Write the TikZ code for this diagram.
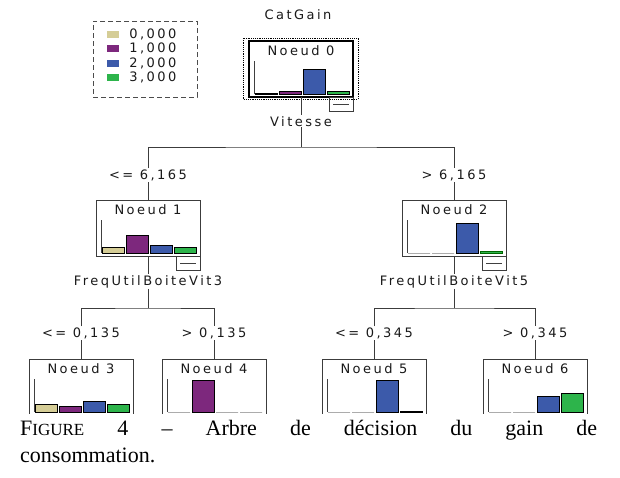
\documentclass[tikz,border=0pt]{standalone}
\usepackage{fontspec}
\setmainfont{Liberation Serif}
\newfontfamily\arbrefont[LetterSpace=19]{DejaVu Sans}
\usetikzlibrary{positioning}
\definecolor{cat0}{RGB}{213,205,150}
\definecolor{cat1}{RGB}{125,40,125}
\definecolor{cat2}{RGB}{60,90,170}
\definecolor{cat3}{RGB}{45,180,75}
\definecolor{trait}{RGB}{60,60,60}
\tikzset{
noeud/.style={
rectangle,
draw=trait,
line width=1pt,
minimum width=104pt,
minimum height=56pt,
inner sep=0pt,
outer sep=0pt
},
racine/.style={noeud, draw=black, line width=2.5pt},
texte/.style={font=\arbrefont\fontsize{13}{15}\selectfont, text=black!90, inner sep=1pt},
plie/.style={rectangle, draw=trait, line width=1pt, minimum width=24pt, minimum height=14pt, inner sep=0pt, outer sep=0pt},
lien/.style={draw=trait, line width=1pt},
axe/.style={draw=black!75, line width=1pt},
barre/.style={line width=1pt},
carre/.style={rectangle, minimum width=12pt, minimum height=7pt, inner sep=0pt}
}
% histogramme dans un noeud : hauteur/remplissage/contour
\newcommand{\histo}[2]{%
\draw[axe] ([shift={(5,-3)}]#1.south west) -- ++(0,-33);
\foreach \h/\c/\d [count=\i from 0] in {#2}
\draw[barre, fill=\c, draw=\d] ([shift={(6+24*\i,-3)}]#1.south west) rectangle ++(22,-\h);
}
\begin{document}
\begin{tikzpicture}[x=1pt, y=-1pt, node distance=18pt]
\useasboundingbox (0,0) rectangle (620,477);

% legende des classes
\node(leg)[rectangle, draw=black!70, line width=1pt, dash pattern=on 5pt off 3pt, minimum width=104pt, minimum height=76pt] at (145,59) {};
\foreach \c/\t [count=\i from 0] in {cat0/{0,000}, cat1/{1,000}, cat2/{2,000}, cat3/{3,000}} {
\node(k\i)[carre, fill=\c] at (113,34+14.6*\i) {};
\node(l\i)[texte, right=9pt of k\i] {\t};
}

\node(cible)[texte] at (298,15) {CatGain};

\begin{scope}
\clip (0,0) rectangle (620,413.5);

% noeuds
\node(n0)[racine] at (301,69) {};
\node(n1)[noeud] at (148,228) {};
\node(n2)[noeud] at (454,228) {};
\node(n3)[noeud] at (81,387) {};
\node(n4)[noeud] at (214,387) {};
\node(n5)[noeud] at (374,387) {};
\node(n6)[noeud] at (535,387) {};

\draw[black, line width=1pt, dash pattern=on 1.2pt off 1pt] ([shift={(-6,-3)}]n0.north west) rectangle ([shift={(5,2)}]n0.south east);

\foreach \n in {0,...,6}
\node(t\n)[texte] at ([shift={(0,10)}]n\n.north) {Noeud \n};

\histo{n0}{1/black/black, 3/cat1/black, 25/cat2/black, 3/cat3/black}
\histo{n1}{6/cat0/black, 18/cat1/black, 8/cat2/black, 6/cat3/black}
\histo{n2}{0/white/gray, 0/white/gray, 30/cat2/black, 2/cat3/black!60!green}
\histo{n3}{8/cat0/black, 6/cat1/black, 11/cat2/black, 8/cat3/black}
\histo{n4}{0/white/gray, 32/cat1/black, 0/white/gray, 0/white/gray}
\histo{n5}{0/white/gray, 0/white/gray, 32/cat2/black, 1/black/black}
\histo{n6}{0/white/gray, 0/white/gray, 16/cat2/black, 19/cat3/black}

% boutons replier
\foreach \n in {0,1,2} {
\node(p\n)[plie, anchor=north east] at (n\n.south east) {};
\draw[axe] ([xshift=4pt]p\n.west) -- ([xshift=-4pt]p\n.east);
}

% variables et seuils
\node(a0)[texte, below=18pt of n0] {Vitesse};
\node(a1)[texte, below=18pt of n1] {FreqUtilBoiteVit3};
\node(a2)[texte, below=18pt of n2] {FreqUtilBoiteVit5};
\node(c1)[texte, above=18pt of n1] {<= 6,165};
\node(c2)[texte, above=18pt of n2] {> 6,165};
\node(c3)[texte, above=19pt of n3] {<= 0,135};
\node(c4)[texte, above=19pt of n4] {> 0,135};
\node(c5)[texte, above=19pt of n5] {<= 0,345};
\node(c6)[texte, above=19pt of n6] {> 0,345};

\coordinate(j0) at (301,147);
\coordinate(j1) at (148,308);
\coordinate(j2) at (454,308);

\draw[lien] (n0) -- (a0);
\draw[lien] (a0) -- (j0);
\draw[lien] (c1.north) |- (j0) -| (c2.north);
\draw[lien] (c1) -- (n1);
\draw[lien] (c2) -- (n2);

\draw[lien] (n1) -- (a1);
\draw[lien] (a1) -- (j1);
\draw[lien] (c3.north) |- (j1) -| (c4.north);
\draw[lien] (c3) -- (n3);
\draw[lien] (c4) -- (n4);

\draw[lien] (n2) -- (a2);
\draw[lien] (a2) -- (j2);
\draw[lien] (c5.north) |- (j2) -| (c6.north);
\draw[lien] (c5) -- (n5);
\draw[lien] (c6) -- (n6);
\end{scope}

% legende de la figure
\node(fig)[anchor=north west, inner sep=0pt, text width=577pt, align=left, font=\fontsize{22}{27}\selectfont] at (20,420)
{F{\fontsize{17}{27}\selectfont IGURE}\hfill 4\hfill –\hfill Arbre\hfill de\hfill décision\hfill du\hfill gain\hfill de\\consommation.};

\end{tikzpicture}
\end{document}
